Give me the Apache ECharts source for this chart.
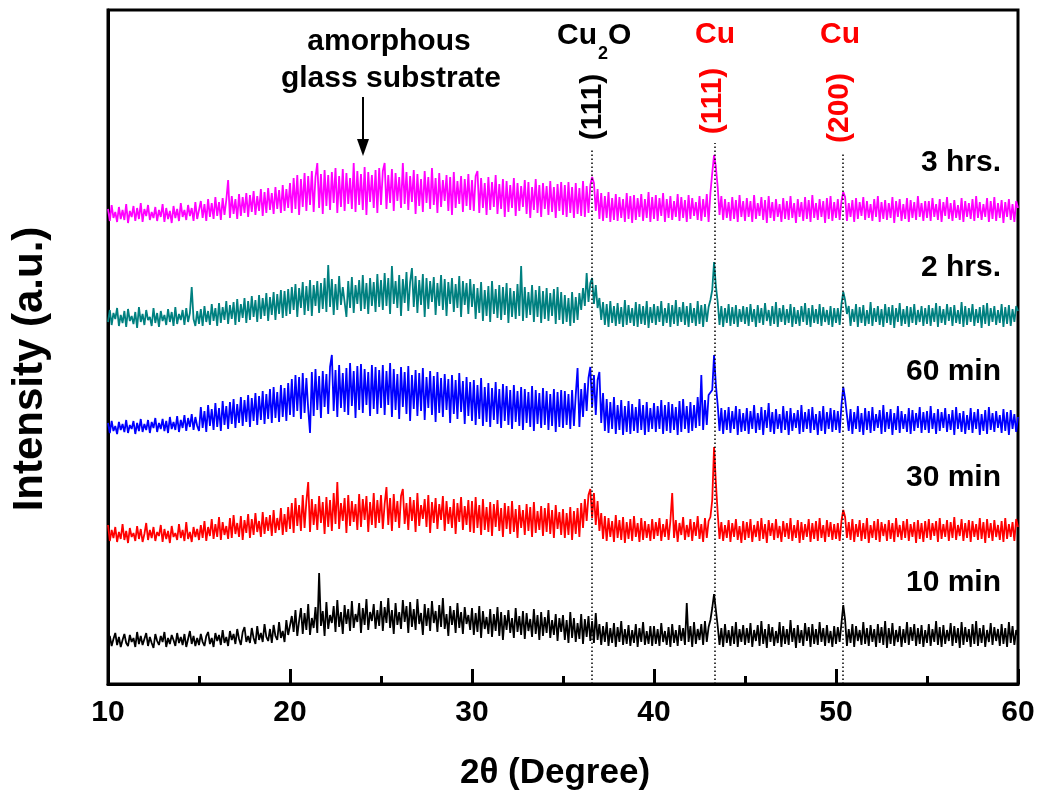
<!DOCTYPE html>
<html>
<head>
<meta charset="utf-8">
<title>XRD patterns</title>
<script src="https://cdn.jsdelivr.net/npm/echarts@6.0.0/dist/echarts.min.js"></script>
<style>
  html, body { margin: 0; padding: 0; background: #fff; }
  #main { width: 1041px; height: 798px; }
</style>
</head>
<body>
<div id="main"></div>
<script>
// 2theta scan positions (deg), 0.1 deg step
const angles = [
  10, 10.1, 10.2, 10.3, 10.4, 10.5, 10.6, 10.7, 10.8, 10.9, 11, 11.1, 11.2, 11.3, 11.4, 11.5, 11.6, 11.7, 11.8, 11.9, 12, 12.1, 12.2, 12.3, 12.4, 12.5, 12.6, 12.7, 12.8, 12.9, 13, 13.1, 13.2, 13.3, 13.4, 13.5, 13.6, 13.7, 13.8, 13.9, 14, 14.1, 14.2, 14.3, 14.4, 14.5, 14.6, 14.7, 14.8, 14.9,
  15, 15.1, 15.2, 15.3, 15.4, 15.5, 15.6, 15.7, 15.8, 15.9, 16, 16.1, 16.2, 16.3, 16.4, 16.5, 16.6, 16.7, 16.8, 16.9, 17, 17.1, 17.2, 17.3, 17.4, 17.5, 17.6, 17.7, 17.8, 17.9, 18, 18.1, 18.2, 18.3, 18.4, 18.5, 18.6, 18.7, 18.8, 18.9, 19, 19.1, 19.2, 19.3, 19.4, 19.5, 19.6, 19.7, 19.8, 19.9,
  20, 20.1, 20.2, 20.3, 20.4, 20.5, 20.6, 20.7, 20.8, 20.9, 21, 21.1, 21.2, 21.3, 21.4, 21.5, 21.6, 21.7, 21.8, 21.9, 22, 22.1, 22.2, 22.3, 22.4, 22.5, 22.6, 22.7, 22.8, 22.9, 23, 23.1, 23.2, 23.3, 23.4, 23.5, 23.6, 23.7, 23.8, 23.9, 24, 24.1, 24.2, 24.3, 24.4, 24.5, 24.6, 24.7, 24.8, 24.9,
  25, 25.1, 25.2, 25.3, 25.4, 25.5, 25.6, 25.7, 25.8, 25.9, 26, 26.1, 26.2, 26.3, 26.4, 26.5, 26.6, 26.7, 26.8, 26.9, 27, 27.1, 27.2, 27.3, 27.4, 27.5, 27.6, 27.7, 27.8, 27.9, 28, 28.1, 28.2, 28.3, 28.4, 28.5, 28.6, 28.7, 28.8, 28.9, 29, 29.1, 29.2, 29.3, 29.4, 29.5, 29.6, 29.7, 29.8, 29.9,
  30, 30.1, 30.2, 30.3, 30.4, 30.5, 30.6, 30.7, 30.8, 30.9, 31, 31.1, 31.2, 31.3, 31.4, 31.5, 31.6, 31.7, 31.8, 31.9, 32, 32.1, 32.2, 32.3, 32.4, 32.5, 32.6, 32.7, 32.8, 32.9, 33, 33.1, 33.2, 33.3, 33.4, 33.5, 33.6, 33.7, 33.8, 33.9, 34, 34.1, 34.2, 34.3, 34.4, 34.5, 34.6, 34.7, 34.8, 34.9,
  35, 35.1, 35.2, 35.3, 35.4, 35.5, 35.6, 35.7, 35.8, 35.9, 36, 36.1, 36.2, 36.3, 36.4, 36.5, 36.6, 36.7, 36.8, 36.9, 37, 37.1, 37.2, 37.3, 37.4, 37.5, 37.6, 37.7, 37.8, 37.9, 38, 38.1, 38.2, 38.3, 38.4, 38.5, 38.6, 38.7, 38.8, 38.9, 39, 39.1, 39.2, 39.3, 39.4, 39.5, 39.6, 39.7, 39.8, 39.9,
  40, 40.1, 40.2, 40.3, 40.4, 40.5, 40.6, 40.7, 40.8, 40.9, 41, 41.1, 41.2, 41.3, 41.4, 41.5, 41.6, 41.7, 41.8, 41.9, 42, 42.1, 42.2, 42.3, 42.4, 42.5, 42.6, 42.7, 42.8, 42.9, 43, 43.1, 43.2, 43.3, 43.4, 43.5, 43.6, 43.7, 43.8, 43.9, 44, 44.1, 44.2, 44.3, 44.4, 44.5, 44.6, 44.7, 44.8, 44.9,
  45, 45.1, 45.2, 45.3, 45.4, 45.5, 45.6, 45.7, 45.8, 45.9, 46, 46.1, 46.2, 46.3, 46.4, 46.5, 46.6, 46.7, 46.8, 46.9, 47, 47.1, 47.2, 47.3, 47.4, 47.5, 47.6, 47.7, 47.8, 47.9, 48, 48.1, 48.2, 48.3, 48.4, 48.5, 48.6, 48.7, 48.8, 48.9, 49, 49.1, 49.2, 49.3, 49.4, 49.5, 49.6, 49.7, 49.8, 49.9,
  50, 50.1, 50.2, 50.3, 50.4, 50.5, 50.6, 50.7, 50.8, 50.9, 51, 51.1, 51.2, 51.3, 51.4, 51.5, 51.6, 51.7, 51.8, 51.9, 52, 52.1, 52.2, 52.3, 52.4, 52.5, 52.6, 52.7, 52.8, 52.9, 53, 53.1, 53.2, 53.3, 53.4, 53.5, 53.6, 53.7, 53.8, 53.9, 54, 54.1, 54.2, 54.3, 54.4, 54.5, 54.6, 54.7, 54.8, 54.9,
  55, 55.1, 55.2, 55.3, 55.4, 55.5, 55.6, 55.7, 55.8, 55.9, 56, 56.1, 56.2, 56.3, 56.4, 56.5, 56.6, 56.7, 56.8, 56.9, 57, 57.1, 57.2, 57.3, 57.4, 57.5, 57.6, 57.7, 57.8, 57.9, 58, 58.1, 58.2, 58.3, 58.4, 58.5, 58.6, 58.7, 58.8, 58.9, 59, 59.1, 59.2, 59.3, 59.4, 59.5, 59.6, 59.7, 59.8, 59.9,
  60
]

// intensities (a.u.), one line per 5 deg
const int10min = [
  4, 12, 2, 9, 15, 3, 11, 1, 8, 14, 5, 2, 13, 6, 10, 1, 16, 4, 12, 3, 9, 15, 2, 11, 5, 0, 14, 7, 3, 12, 6, 16, 1, 10, 4, 13, 8, 2, 15, 5, 11, 3, 14, 1, 9, 17, 4, 12, 2, 10,
  3, 14, 6, 2, 12, 16, 4, 10, 1, 15, 7, 13, 3, 18, 5, 11, 2, 17, 8, 14, 4, 19, 9, 3, 16, 21, 6, 12, 5, 20, 10, 4, 22, 8, 15, 6, 24, 11, 7, 19, 5, 23, 12, 8, 26, 10, 17, 6, 28, 13,
  11, 32, 16, 38, 12, 27, 40, 14, 35, 18, 44, 13, 30, 20, 41, 15, 75, 22, 37, 12, 46, 19, 33, 25, 42, 16, 48, 21, 36, 14, 43, 24, 39, 17, 47, 20, 34, 26, 45, 15, 40, 23, 49, 18, 36, 27, 44, 19, 38, 22,
  47, 17, 41, 25, 50, 20, 38, 14, 45, 23, 36, 19, 48, 26, 42, 15, 46, 21, 39, 18, 49, 24, 35, 13, 44, 22, 40, 17, 47, 25, 37, 16, 43, 21, 50, 19, 34, 12, 42, 23, 38, 15, 45, 20, 36, 14, 41, 24, 33, 18,
  40, 13, 35, 16, 42, 10, 37, 19, 31, 14, 39, 11, 34, 17, 41, 12, 36, 8, 33, 18, 38, 15, 30, 10, 40, 16, 32, 13, 37, 9, 35, 17, 29, 11, 39, 14, 33, 8, 36, 12, 31, 15, 38, 10, 28, 13, 34, 7, 30, 16,
  33, 8, 28, 5, 36, 10, 30, 6, 25, 9, 34, 4, 29, 11, 32, 7, 27, 5, 35, 8, 24, 3, 22, 6, 26, 2, 20, 5, 25, 1, 21, 6, 27, 3, 19, 4, 23, 2, 18, 5, 24, 1, 20, 6, 26, 3, 17, 4, 22, 2,
  22, 4, 19, 2, 25, 6, 17, 3, 21, 1, 24, 5, 18, 2, 23, 7, 20, 3, 45, 6, 22, 1, 26, 4, 19, 8, 24, 3, 27, 6, 21, 28, 40, 54, 38, 22, 3, 20, 1, 24, 5, 18, 2, 22, 4, 26, 1, 19, 6, 23,
  3, 20, 5, 25, 1, 18, 7, 23, 2, 27, 4, 19, 0, 24, 6, 21, 2, 17, 5, 26, 1, 22, 4, 19, 3, 28, 6, 20, 0, 23, 5, 18, 2, 25, 7, 21, 1, 24, 4, 19, 3, 26, 6, 20, 2, 23, 5, 17, 1, 22,
  4, 21, 6, 25, 43, 28, 2, 19, 5, 24, 1, 22, 7, 18, 3, 26, 4, 20, 2, 23, 6, 19, 1, 24, 5, 21, 3, 27, 0, 20, 4, 25, 2, 18, 6, 22, 1, 19, 5, 26, 3, 21, 7, 24, 2, 20, 4, 23, 1, 18,
  5, 24, 2, 19, 6, 27, 3, 21, 1, 23, 4, 18, 7, 25, 2, 22, 5, 20, 0, 26, 3, 21, 6, 19, 1, 24, 4, 27, 2, 20, 5, 23, 1, 18, 6, 25, 3, 21, 7, 19, 2, 24, 4, 20, 1, 26, 5, 22, 3, 18,
  12
]
const int30min = [
  18, 2, 13, 5, 16, 1, 11, 4, 19, 3, 12, 0, 15, 6, 10, 2, 17, 4, 14, 1, 9, 20, 3, 13, 5, 16, 2, 11, 7, 18, 1, 14, 4, 12, 0, 17, 6, 10, 3, 19, 5, 13, 2, 21, 4, 11, 1, 16, 6, 14,
  3, 18, 5, 22, 2, 16, 7, 24, 4, 19, 6, 26, 3, 21, 8, 17, 4, 25, 5, 28, 9, 20, 6, 27, 3, 23, 10, 29, 5, 24, 8, 30, 11, 22, 6, 31, 9, 26, 12, 28, 7, 33, 10, 25, 13, 35, 8, 29, 11, 36,
  14, 40, 10, 45, 17, 38, 12, 48, 15, 42, 61, 11, 44, 18, 39, 13, 47, 20, 41, 9, 46, 16, 43, 12, 50, 19, 61, 14, 40, 22, 45, 10, 48, 17, 42, 21, 39, 13, 49, 16, 44, 23, 47, 11, 41, 18, 50, 15, 43, 20,
  48, 14, 39, 56, 18, 45, 12, 49, 21, 42, 15, 47, 54, 19, 40, 13, 46, 22, 43, 11, 50, 17, 38, 24, 44, 16, 48, 10, 41, 20, 45, 14, 39, 23, 47, 12, 42, 19, 36, 15, 44, 9, 40, 21, 46, 13, 37, 18, 43, 11,
  42, 10, 46, 15, 38, 8, 44, 13, 36, 11, 41, 7, 39, 16, 43, 12, 35, 6, 40, 14, 37, 9, 42, 11, 34, 5, 38, 15, 33, 8, 39, 12, 36, 6, 41, 10, 32, 13, 37, 7, 35, 11, 40, 9, 33, 5, 38, 14, 31, 8,
  34, 5, 30, 8, 36, 3, 32, 9, 35, 6, 40, 15, 44, 22, 48, 54, 25, 50, 18, 42, 12, 30, 4, 27, 2, 25, 6, 22, 1, 28, 5, 23, 3, 26, 0, 21, 4, 24, 2, 27, 6, 20, 1, 25, 3, 22, 5, 19, 2, 24,
  4, 21, 7, 25, 2, 19, 6, 24, 3, 22, 50, 5, 23, 1, 20, 8, 26, 3, 18, 6, 24, 2, 21, 7, 27, 4, 19, 1, 25, 5, 22, 26, 43, 96, 60, 30, 4, 21, 2, 18, 5, 23, 1, 20, 6, 24, 3, 17, 0, 22,
  3, 21, 5, 24, 1, 18, 6, 22, 2, 25, 4, 19, 0, 23, 7, 20, 3, 24, 5, 17, 1, 22, 6, 20, 4, 25, 2, 18, 5, 23, 0, 21, 3, 19, 6, 24, 1, 20, 4, 22, 2, 25, 5, 18, 1, 23, 6, 21, 3, 19,
  4, 20, 2, 22, 33, 26, 5, 21, 3, 24, 1, 19, 6, 23, 2, 20, 4, 25, 0, 18, 5, 22, 3, 24, 1, 21, 7, 19, 2, 23, 4, 20, 1, 25, 6, 18, 3, 22, 5, 24, 2, 19, 6, 21, 0, 23, 4, 20, 1, 22,
  5, 24, 3, 20, 7, 22, 1, 25, 4, 19, 6, 23, 2, 21, 5, 26, 3, 18, 7, 24, 2, 20, 5, 23, 1, 22, 6, 19, 3, 25, 4, 21, 0, 24, 5, 20, 2, 23, 6, 18, 3, 22, 1, 25, 4, 19, 6, 21, 2, 24,
  16
]
const int60min = [
  12, 2, 14, 4, 9, 1, 13, 5, 11, 3, 15, 2, 10, 6, 14, 1, 12, 4, 16, 3, 11, 5, 15, 2, 13, 7, 17, 3, 12, 6, 16, 4, 14, 2, 18, 6, 13, 5, 19, 3, 15, 7, 20, 4, 17, 8, 21, 5, 18, 9,
  4, 28, 7, 24, 3, 30, 9, 26, 5, 32, 8, 27, 4, 34, 10, 29, 6, 33, 11, 36, 7, 31, 12, 38, 9, 35, 13, 40, 8, 37, 14, 42, 10, 39, 15, 44, 11, 41, 16, 46, 12, 48, 17, 43, 13, 50, 18, 47, 14, 52,
  20, 56, 18, 60, 24, 58, 16, 62, 22, 57, 26, 2, 63, 19, 66, 25, 59, 17, 64, 28, 61, 21, 68, 80, 24, 65, 18, 70, 27, 62, 23, 67, 20, 72, 29, 64, 17, 69, 25, 71, 22, 66, 30, 63, 19, 70, 26, 68, 21, 65,
  27, 70, 20, 64, 30, 72, 18, 66, 25, 61, 16, 68, 28, 63, 21, 69, 14, 60, 26, 65, 19, 62, 24, 67, 15, 58, 27, 64, 20, 59, 13, 63, 22, 57, 18, 61, 25, 56, 12, 60, 21, 55, 16, 62, 23, 54, 11, 58, 19, 53,
  14, 55, 10, 50, 16, 57, 9, 48, 13, 52, 8, 47, 15, 53, 11, 46, 7, 51, 14, 49, 10, 45, 6, 50, 13, 44, 9, 48, 5, 46, 12, 43, 8, 49, 4, 45, 11, 42, 7, 47, 10, 44, 5, 41, 9, 46, 3, 43, 8, 45,
  7, 44, 10, 41, 6, 45, 9, 40, 67, 8, 46, 18, 52, 24, 57, 68, 28, 60, 20, 55, 63, 12, 42, 4, 36, 2, 33, 6, 38, 1, 30, 5, 35, 0, 29, 3, 34, 1, 31, 4, 28, 2, 36, 5, 30, 0, 33, 3, 27, 6,
  32, 3, 29, 6, 35, 1, 30, 4, 33, 2, 31, 5, 28, 0, 34, 3, 36, 6, 29, 2, 33, 4, 30, 7, 38, 9, 60, 5, 35, 10, 40, 38, 45, 80, 50, 30, 4, 27, 1, 25, 5, 28, 2, 24, 6, 29, 0, 26, 3, 22,
  4, 27, 1, 24, 6, 30, 2, 22, 5, 28, 0, 25, 7, 32, 3, 23, 1, 26, 6, 21, 2, 29, 5, 24, 0, 27, 4, 22, 7, 25, 1, 30, 3, 23, 6, 26, 2, 28, 5, 21, 0, 24, 4, 29, 1, 23, 6, 27, 3, 25,
  5, 24, 2, 30, 48, 36, 20, 4, 26, 1, 23, 6, 29, 3, 22, 0, 27, 5, 24, 2, 28, 4, 21, 7, 25, 1, 30, 3, 23, 6, 26, 0, 22, 5, 29, 2, 24, 6, 21, 3, 27, 1, 25, 4, 22, 7, 28, 2, 23, 5,
  24, 2, 29, 6, 22, 1, 26, 4, 23, 7, 27, 3, 21, 5, 25, 0, 28, 6, 22, 3, 24, 1, 20, 5, 27, 2, 23, 6, 26, 0, 21, 4, 25, 1, 28, 5, 22, 3, 24, 7, 20, 2, 26, 4, 23, 0, 25, 6, 21, 3,
  18
]
const int2hrs = [
  6, 18, 3, 15, 9, 20, 2, 13, 5, 17, 1, 19, 7, 12, 4, 16, 0, 21, 6, 14, 3, 18, 8, 11, 2, 20, 5, 15, 1, 17, 7, 13, 3, 19, 6, 16, 2, 21, 4, 14, 8, 18, 3, 20, 6, 15, 41, 9, 2, 17,
  4, 19, 2, 22, 6, 17, 3, 24, 7, 20, 2, 25, 5, 21, 8, 27, 4, 23, 9, 26, 3, 29, 6, 24, 10, 30, 5, 27, 8, 32, 11, 28, 6, 33, 9, 30, 12, 35, 7, 31, 13, 36, 8, 34, 14, 38, 10, 37, 12, 39,
  14, 41, 18, 44, 11, 40, 20, 46, 13, 42, 17, 48, 12, 43, 22, 47, 15, 45, 19, 50, 16, 63, 21, 49, 13, 44, 18, 52, 23, 41, 42, 11, 47, 20, 51, 15, 43, 24, 48, 17, 53, 19, 45, 14, 50, 22, 46, 16, 54, 21,
  48, 18, 55, 22, 50, 14, 62, 24, 47, 20, 53, 12, 49, 25, 56, 17, 46, 60, 21, 52, 15, 48, 23, 54, 11, 50, 19, 47, 26, 51, 13, 45, 22, 53, 18, 49, 12, 46, 24, 50, 16, 44, 20, 52, 11, 47, 23, 45, 14, 49,
  21, 44, 9, 40, 15, 46, 7, 38, 12, 42, 6, 47, 14, 39, 10, 43, 8, 41, 13, 45, 5, 40, 11, 37, 9, 44, 12, 62, 7, 41, 10, 36, 13, 43, 6, 38, 11, 42, 5, 37, 9, 40, 7, 35, 12, 39, 4, 41, 8, 36,
  4, 33, 6, 30, 2, 36, 5, 31, 8, 35, 18, 40, 22, 55, 26, 45, 50, 24, 43, 20, 30, 8, 26, 3, 24, 1, 27, 5, 22, 2, 25, 4, 21, 1, 28, 3, 23, 5, 20, 2, 26, 1, 24, 4, 22, 3, 27, 0, 21, 5,
  24, 3, 22, 6, 27, 2, 20, 5, 25, 1, 23, 4, 28, 2, 21, 6, 26, 3, 22, 1, 25, 5, 20, 2, 27, 4, 23, 1, 24, 6, 21, 28, 38, 66, 42, 26, 3, 22, 1, 20, 5, 24, 2, 21, 4, 23, 1, 19, 6, 22,
  4, 21, 2, 24, 6, 19, 1, 23, 5, 20, 3, 25, 7, 18, 2, 22, 4, 26, 1, 20, 6, 23, 3, 19, 5, 24, 1, 21, 4, 18, 2, 22, 6, 25, 3, 20, 1, 23, 5, 19, 4, 24, 2, 21, 6, 18, 3, 22, 1, 20,
  5, 20, 3, 24, 36, 28, 14, 22, 2, 19, 6, 24, 1, 21, 5, 23, 2, 18, 4, 26, 2, 20, 6, 22, 3, 19, 1, 24, 5, 21, 3, 23, 0, 20, 6, 25, 2, 19, 4, 22, 1, 21, 5, 24, 3, 18, 6, 22, 2, 20,
  4, 23, 2, 20, 6, 25, 1, 22, 5, 19, 3, 24, 7, 21, 2, 23, 5, 18, 4, 26, 1, 22, 3, 20, 6, 24, 2, 19, 5, 21, 0, 23, 4, 25, 2, 20, 6, 22, 3, 18, 5, 24, 1, 21, 4, 23, 2, 19, 6, 22,
  17
]
const int3hrs = [
  14, 2, 18, 5, 11, 1, 16, 4, 13, 3, 19, 0, 12, 6, 17, 2, 15, 4, 20, 1, 14, 7, 18, 3, 11, 5, 16, 2, 13, 6, 19, 1, 15, 4, 12, 0, 17, 5, 14, 2, 20, 6, 13, 3, 18, 7, 15, 2, 21, 4,
  3, 22, 5, 19, 2, 24, 6, 20, 4, 26, 7, 21, 3, 25, 8, 23, 43, 5, 27, 9, 24, 4, 29, 7, 26, 10, 30, 6, 28, 11, 32, 8, 27, 12, 34, 7, 31, 10, 35, 13, 30, 9, 36, 14, 33, 10, 38, 12, 34, 15,
  40, 10, 45, 14, 48, 8, 44, 16, 50, 12, 47, 18, 52, 11, 46, 60, 15, 49, 9, 53, 17, 48, 13, 51, 20, 55, 10, 47, 16, 54, 12, 50, 19, 45, 14, 60, 11, 52, 18, 49, 13, 56, 8, 51, 21, 48, 15, 53, 10, 55,
  18, 52, 60, 14, 48, 20, 54, 12, 50, 22, 46, 15, 60, 19, 51, 13, 47, 21, 53, 9, 49, 17, 44, 11, 52, 20, 46, 14, 55, 18, 45, 10, 50, 16, 43, 22, 48, 12, 46, 8, 51, 15, 42, 19, 47, 11, 44, 17, 49, 13,
  43, 12, 47, 52, 10, 45, 15, 40, 8, 46, 13, 41, 16, 48, 9, 39, 14, 44, 6, 42, 11, 38, 15, 45, 7, 40, 12, 37, 16, 43, 9, 41, 5, 36, 13, 44, 10, 38, 6, 40, 14, 37, 8, 42, 11, 36, 5, 39, 12, 41,
  8, 38, 6, 41, 10, 36, 5, 40, 9, 35, 7, 42, 6, 37, 10, 38, 46, 40, 12, 34, 4, 30, 2, 27, 5, 31, 1, 25, 3, 29, 2, 26, 5, 24, 1, 30, 4, 27, 0, 28, 3, 25, 6, 29, 2, 24, 5, 31, 1, 26,
  4, 28, 2, 25, 7, 30, 1, 24, 5, 27, 3, 22, 6, 29, 2, 26, 5, 23, 1, 28, 4, 25, 7, 21, 3, 27, 2, 24, 6, 29, 1, 30, 50, 68, 56, 36, 8, 27, 3, 24, 5, 21, 2, 26, 4, 23, 1, 28, 6, 22,
  2, 25, 6, 22, 1, 28, 4, 20, 7, 26, 3, 23, 0, 27, 5, 21, 2, 24, 6, 19, 1, 25, 4, 22, 3, 27, 5, 20, 0, 24, 6, 21, 2, 26, 4, 23, 1, 28, 5, 20, 3, 24, 6, 22, 0, 25, 4, 27, 2, 21,
  5, 24, 3, 22, 31, 26, 2, 20, 6, 23, 1, 25, 4, 21, 7, 26, 3, 22, 5, 19, 2, 24, 6, 27, 1, 21, 4, 23, 3, 20, 5, 26, 0, 22, 6, 24, 2, 19, 4, 25, 1, 23, 5, 21, 3, 27, 6, 20, 2, 22,
  5, 22, 2, 25, 6, 19, 3, 24, 1, 21, 7, 26, 4, 20, 2, 23, 5, 18, 3, 25, 1, 22, 6, 20, 4, 24, 2, 27, 5, 21, 3, 19, 6, 25, 1, 22, 4, 26, 2, 20, 5, 23, 0, 21, 6, 24, 3, 19, 1, 22,
  15
]

const traceNames = ['10 min', '30 min', '60 min', '2 hrs.', '3 hrs.']
const traceData = [int10min, int30min, int60min, int2hrs, int3hrs]
const traceOffsets = [36, 141, 249, 356, 461]   // vertical stacking shift
const traceColors = ['#000000', '#ff0000', '#0000ff', '#008080', '#ff00ff']

// reflection positions: Cu2O (111), Cu (111), Cu (200)
const peakAngles = [36.6, 43.35, 50.35]
const peakLineTop = [534, 541, 531]

const FONT = 'Arial, "Liberation Sans", sans-serif'

const chart = echarts.init(document.getElementById('main'))

function txt(text, x, y, opt) {
  opt = opt || {}
  return {
    type: 'text',
    x: x,
    y: y,
    rotation: opt.rotation || 0,
    z: 100,
    style: {
      text: text,
      fill: opt.color || '#000',
      font: 'bold ' + (opt.size || 30) + 'px ' + FONT,
      textAlign: opt.align || 'center',
      textVerticalAlign: 'middle'
    }
  }
}

const series = traceData.map((vals, k) => ({
  name: traceNames[k],
  type: 'line',
  showSymbol: false,
  animation: false,
  silent: true,
  lineStyle: { color: traceColors[k], width: 1.8, join: 'bevel' },
  itemStyle: { color: traceColors[k] },
  data: angles.map((a, i) => [a, vals[i] + traceOffsets[k]])
}))

series[0].markLine = {
  silent: true,
  animation: false,
  symbol: ['none', 'none'],
  label: { show: false },
  lineStyle: { color: '#000', width: 1.5, type: [1.5, 2.5] },
  data: peakAngles.map((a, i) => [{ coord: [a, 0] }, { coord: [a, peakLineTop[i]] }])
}

const labelY = [583, 478, 372, 268, 163]
const graphics = [
  txt('Intensity (a.u.)', 30, 369, { size: 42, rotation: Math.PI / 2 }),
  txt('2θ (Degree)', 555, 773, { size: 35 }),
  txt('amorphous', 389, 42),
  txt('glass substrate', 391, 79),
  { type: 'line', z: 100, shape: { x1: 363, y1: 97, x2: 363, y2: 142 }, style: { stroke: '#000', lineWidth: 2 } },
  { type: 'polygon', z: 100, shape: { points: [[357, 139], [369, 139], [363, 156]] }, style: { fill: '#000' } },
  txt('Cu', 557, 36, { align: 'left' }),
  txt('2', 598, 54, { align: 'left', size: 18 }),
  txt('O', 608, 36, { align: 'left' }),
  txt('(111)', 593, 107, { rotation: Math.PI / 2 }),
  txt('Cu', 715, 35, { color: '#ff0000' }),
  txt('(111)', 713, 101, { color: '#ff0000', rotation: Math.PI / 2 }),
  txt('Cu', 840, 35, { color: '#ff0000' }),
  txt('(200)', 840, 108, { color: '#ff0000', rotation: Math.PI / 2 })
]
traceNames.forEach((n, k) => graphics.push(txt(n, 1001, labelY[k], { align: 'right' })))

chart.setOption({
  backgroundColor: '#fff',
  animation: false,
  grid: {
    left: 108, right: 23, top: 10, bottom: 114,
    show: true, borderColor: '#000', borderWidth: 3
  },
  xAxis: {
    type: 'value',
    min: 10,
    max: 60,
    interval: 10,
    axisLine: { lineStyle: { color: '#000', width: 3 } },
    axisTick: { inside: true, length: 15, lineStyle: { color: '#000', width: 3 } },
    minorTick: { show: true, splitNumber: 2, length: 8, lineStyle: { color: '#000', width: 3 } },
    splitLine: { show: false },
    axisLabel: { color: '#000', fontSize: 30, fontWeight: 'bold', fontFamily: FONT, margin: 14 }
  },
  yAxis: {
    type: 'value',
    min: 0,
    max: 674,
    axisLine: { show: true, lineStyle: { color: '#000', width: 3 } },
    axisTick: { show: false },
    axisLabel: { show: false },
    splitLine: { show: false }
  },
  series: series,
  graphic: graphics
})
</script>
</body>
</html>
